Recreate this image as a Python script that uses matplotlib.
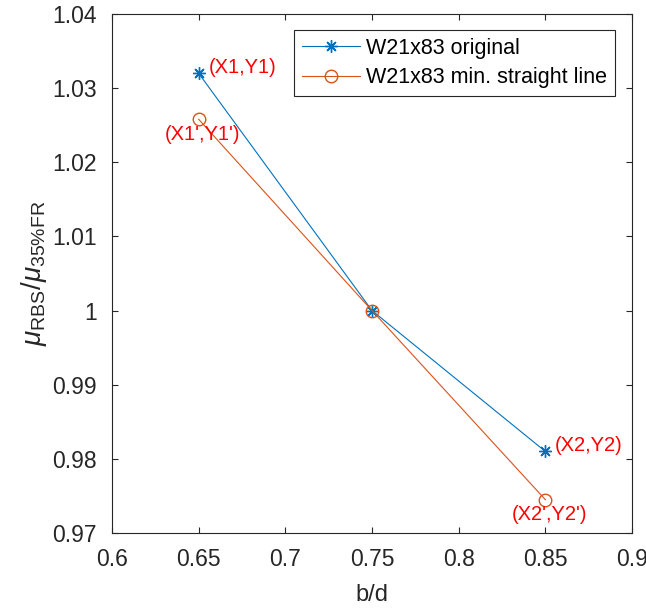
import matplotlib
matplotlib.use("Agg")
import matplotlib.pyplot as plt

# data
bd = [0.65, 0.75, 0.85]
mu_original = [1.032, 1.000, 0.981]
mu_straight = [1.0258, 1.000, 0.9745]
series_labels = ["W21x83 original", "W21x83 min. straight line"]
point_labels_orig = ["(X1,Y1)", None, "(X2,Y2)"]
point_labels_straight = ["(X1',Y1')", None, "(X2',Y2')"]
xticks = [0.6, 0.65, 0.7, 0.75, 0.8, 0.85, 0.9]
yticks = [0.97, 0.98, 0.99, 1.0, 1.01, 1.02, 1.03, 1.04]

plt.rcParams["font.family"] = ["Liberation Sans", "DejaVu Sans"]
plt.rcParams["mathtext.fontset"] = "custom"
plt.rcParams["mathtext.rm"] = "Liberation Sans"
plt.rcParams["mathtext.it"] = "Liberation Sans:italic"

blue = "#0072BD"
orange = "#D95319"
axcol = "#262626"

fig = plt.figure(figsize=(6.46, 6.09), dpi=100)
ax = fig.add_axes([112 / 646, 76 / 609, 520 / 646, 519 / 609])

ax.plot(bd, mu_original, color=blue, lw=0.8, marker=(8, 2, 0),
        markersize=9, markeredgewidth=1.0, label=series_labels[0])
ax.plot(bd, mu_straight, color=orange, lw=0.8, marker="o",
        markersize=9, markerfacecolor="none", markeredgewidth=1.0,
        label=series_labels[1])

for x, y, lab in zip(bd, mu_original, point_labels_orig):
    if lab:
        ax.annotate(lab, (x, y), xytext=(7, 4), textcoords="offset points",
                    ha="left", va="center", color="red", fontsize=14.5)
for x, y, lab in zip(bd, mu_straight, point_labels_straight):
    if lab:
        ax.annotate(lab, (x, y), xytext=(3, -11), textcoords="offset points",
                    ha="center", va="center", color="red", fontsize=14.5)

ax.set_xlim(0.6, 0.9)
ax.set_ylim(0.97, 1.04)
ax.set_xticks(xticks)
ax.set_xticklabels(["%g" % t for t in xticks])
ax.set_yticks(yticks)
ax.set_yticklabels(["%g" % t for t in yticks])
ax.tick_params(direction="in", top=True, right=True, length=4, width=0.8,
               labelsize=16.5, colors=axcol)
ax.tick_params(axis="x", pad=11)
ax.tick_params(axis="y", pad=11)
for s in ax.spines.values():
    s.set_color(axcol)
    s.set_linewidth(0.8)

ax.set_xlabel("b/d", fontsize=17, color=axcol, labelpad=9)
ax.set_ylabel(r"$\mathit{\mu}_{\rm RBS}/\mathit{\mu}_{\rm 35\%FR}$",
              fontsize=20, color=axcol, labelpad=2)

leg = ax.legend(loc="upper right", bbox_to_anchor=(503 / 520, 503 / 519),
                borderaxespad=0, fontsize=15.5, fancybox=False,
                edgecolor=axcol, framealpha=1, handlelength=2.7,
                handletextpad=0.3, labelspacing=0.4, borderpad=0.35)
leg.get_frame().set_linewidth(0.8)

fig.savefig("out.png", dpi=100)
